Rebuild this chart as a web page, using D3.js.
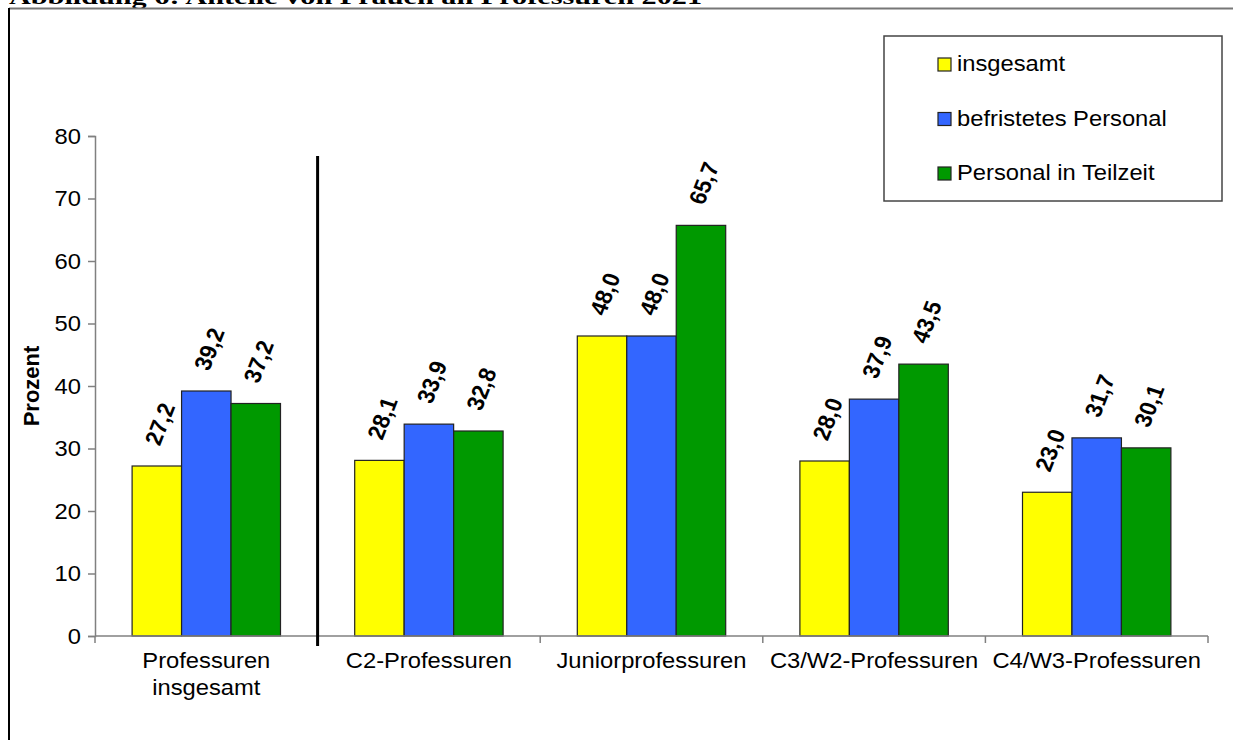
<!DOCTYPE html>
<html><head><meta charset="utf-8">
<script src="https://cdn.jsdelivr.net/npm/d3@7"></script>
<style>body{margin:0;background:#fff}svg{display:block}</style>
</head><body>
<svg id="c" width="1233" height="740"></svg>
<script>
const title = "Abbildung 6: Anteile von Frauen an Professuren 2021";
const categories = [["Professuren","insgesamt"],["C2-Professuren"],["Juniorprofessuren"],["C3/W2-Professuren"],["C4/W3-Professuren"]];
const seriesNames = ["insgesamt","befristetes Personal","Personal in Teilzeit"];
const seriesColors = ["#FFFF00","#3366FF","#009900"];
const insgesamt = [27.2, 28.1, 48.0, 28.0, 23.0];
const befristet = [39.2, 33.9, 48.0, 37.9, 31.7];
const teilzeit  = [37.2, 32.8, 65.7, 43.5, 30.1];
const yTicks = [0,10,20,30,40,50,60,70,80];
const yLabel = "Prozent";

const series = [insgesamt, befristet, teilzeit];
const svg = d3.select("#c");
const SX = 1.08;
const fmt = v => d3.format(".1f")(v).replace(".", ",");

// frame + clipped title
svg.append("text").attr("x",9).attr("y",4)
  .attr("font-family","'Liberation Serif', serif").attr("font-weight","bold")
  .attr("font-size",22).attr("textLength",693).attr("lengthAdjust","spacingAndGlyphs")
  .text(title);
svg.append("line").attr("x1",9).attr("x2",1233).attr("y1",8.5).attr("y2",8.5).attr("stroke","#777").attr("stroke-width",2);
svg.append("line").attr("x1",9).attr("x2",9).attr("y1",8).attr("y2",740).attr("stroke","#000").attr("stroke-width",2);

const x0 = d3.scaleBand().domain(d3.range(categories.length)).range([95,1208]).paddingInner(0).paddingOuter(0);
const x1 = d3.scaleBand().domain(d3.range(3)).range([0,x0.bandwidth()]).paddingInner(0).paddingOuter(0.75);
const y = d3.scaleLinear().domain([0,80]).range([636,136]);

// y axis
const yAxis = svg.append("g").attr("transform","translate(95,0)")
  .call(d3.axisLeft(y).tickValues(yTicks).tickSize(7).tickPadding(8));
yAxis.select(".domain").attr("stroke","#808080").attr("stroke-width",1.5);
yAxis.selectAll(".tick line").attr("stroke","#808080").attr("stroke-width",1.5);
yAxis.selectAll(".tick text").attr("font-family","'Liberation Sans', Arial, sans-serif").attr("font-size",22).attr("fill","#000")
  .attr("transform","scale(1.08,1)").attr("x", -14/SX);

// bars
const groups = svg.append("g").selectAll("g").data(categories).join("g")
  .attr("transform",(d,i)=>`translate(${x0(i)},0)`);
groups.each(function(c,i){
  const g = d3.select(this);
  series.forEach((s,k)=>{
    g.append("rect").attr("x",x1(k)).attr("y",y(s[i])).attr("width",x1.bandwidth()).attr("height",y(0)-y(s[i]))
      .attr("fill",seriesColors[k]).attr("stroke","#222").attr("stroke-width",1.2);
    const ax = x0(i)+x1(k)+x1.bandwidth()/2-5, ay = y(s[i])-22;
    svg.append("text").attr("transform",`translate(${ax},${ay}) scale(${SX},1) rotate(-70)`)
      .attr("dy","0.35em").attr("font-family","'Liberation Sans', Arial, sans-serif").attr("font-weight","bold")
      .attr("font-size",22).attr("fill","#000").text(fmt(s[i]));
  });
});

// x axis
const xAxisG = svg.append("g");
xAxisG.append("line").attr("x1",95).attr("x2",1208).attr("y1",636).attr("y2",636).attr("stroke","#808080").attr("stroke-width",1.5);
const bounds = d3.range(categories.length+1).map(i => i<categories.length ? x0(i) : x0(i-1)+x0.bandwidth());
xAxisG.selectAll("line.t").data(bounds).join("line").attr("class","t")
  .attr("x1",d=>d).attr("x2",d=>d).attr("y1",636).attr("y2",643).attr("stroke","#808080").attr("stroke-width",1.5);
categories.forEach((c,i)=>{
  const cx = x0(i)+x0.bandwidth()/2;
  const t = svg.append("text").attr("transform",`translate(${cx},668) scale(${SX},1)`)
    .attr("text-anchor","middle").attr("font-family","'Liberation Sans', Arial, sans-serif").attr("font-size",22).attr("fill","#000");
  c.forEach((line,j)=> t.append("tspan").attr("x",0).attr("y",j*27).text(line));
});

// separator
svg.append("line").attr("x1",x0(1)).attr("x2",x0(1)).attr("y1",156).attr("y2",646).attr("stroke","#000").attr("stroke-width",3);

// y label
svg.append("text").attr("transform","translate(39,386) rotate(-90)").attr("text-anchor","middle")
  .attr("font-family","'Liberation Sans', Arial, sans-serif").attr("font-weight","bold").attr("font-size",22).text(yLabel);

// legend
const lg = svg.append("g");
lg.append("rect").attr("x",884).attr("y",36).attr("width",338).attr("height",165).attr("fill","#fff").attr("stroke","#444").attr("stroke-width",1.5);
seriesNames.forEach((n,k)=>{
  const by = 71 + k*54.5;
  lg.append("rect").attr("x",938).attr("y",by-13).attr("width",13).attr("height",13).attr("fill",seriesColors[k]).attr("stroke","#222").attr("stroke-width",1.2);
  lg.append("text").attr("transform",`translate(957,${by}) scale(${SX},1)`).attr("font-family","'Liberation Sans', Arial, sans-serif").attr("font-size",22).text(n);
});
</script>
</body></html>
